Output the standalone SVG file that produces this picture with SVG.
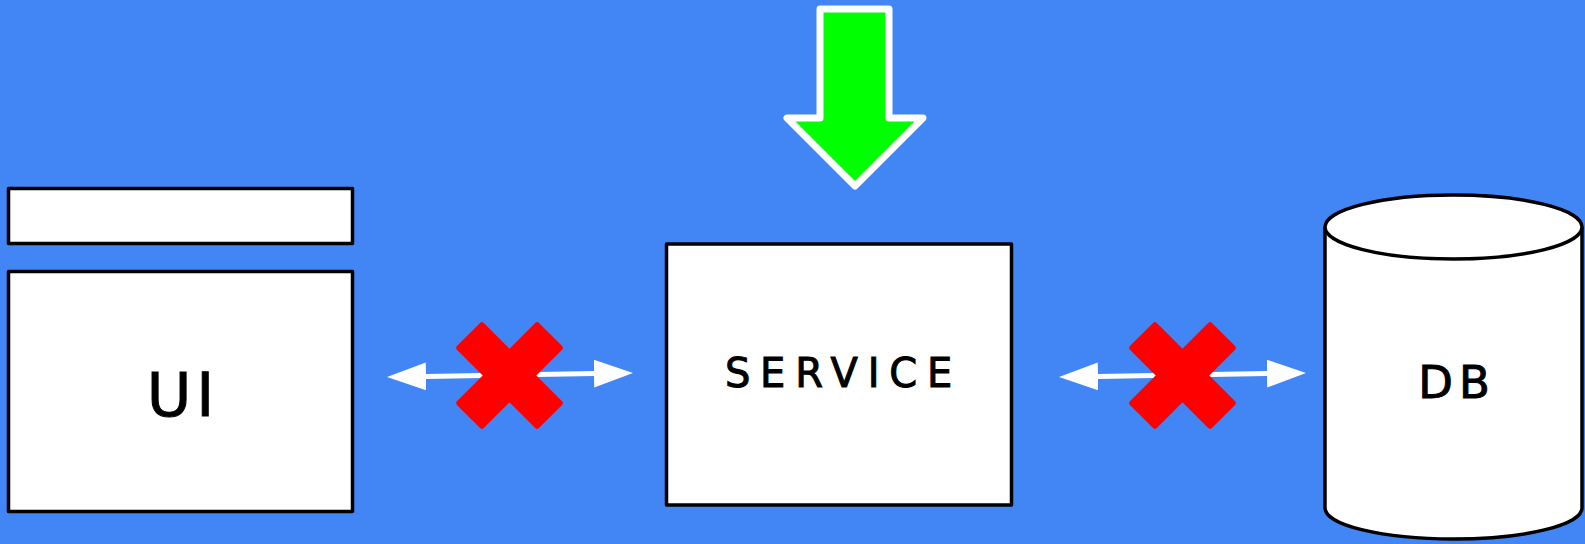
<svg xmlns="http://www.w3.org/2000/svg" width="1585" height="544" viewBox="0 0 1585 544">
<style>
.box{fill:#fff;stroke:#000;stroke-width:3.5;stroke-linejoin:round}
.lbl{font-family:"DejaVu Sans","Liberation Sans",Arial,sans-serif;fill:#000;stroke:#000;stroke-width:1;text-anchor:middle}
.conn{stroke:#fff;stroke-width:5;fill:none}
.x{fill:#f00}
</style>
<defs>
<marker id="ah" viewBox="0 0 39 28" markerWidth="39" markerHeight="28" markerUnits="userSpaceOnUse" refX="0" refY="14" orient="auto-start-reverse">
<path d="M0,0 L39,14 L0,28 Z" fill="#fff"/>
</marker>
</defs>
<rect width="1585" height="544" fill="#4285F4"/>
<g id="deploy-arrow">
<path d="M820,9 H889 V118 H923 L855,186 L787,118 H820 Z" fill="#0f0" stroke="#fff" stroke-width="7" stroke-linejoin="round"/>
</g>
<g id="ui">
<rect class="box" x="8.5" y="188.5" width="344" height="55"/>
<rect class="box" x="8.5" y="271.5" width="344" height="240"/>
<text class="lbl" x="183" y="416" font-size="61" letter-spacing="5">UI</text>
</g>
<g id="service">
<rect class="box" x="666.5" y="244" width="345" height="261"/>
<text class="lbl" x="843.5" y="387" font-size="40" letter-spacing="9.8">SERVICE</text>
</g>
<g id="db">
<path class="box" d="M1325,227 V508 A128.5,31 0 0 0 1582,508 V227"/>
<ellipse class="box" cx="1453.5" cy="227" rx="128.5" ry="32"/>
<text class="lbl" x="1457" y="398" font-size="45" letter-spacing="6">DB</text>
</g>
<g id="connectors">
<path class="conn" d="M426,376.4 L594,373.6" marker-start="url(#ah)" marker-end="url(#ah)"/>
<path class="conn" d="M1098,376.4 L1267,373.6" marker-start="url(#ah)" marker-end="url(#ah)"/>
</g>
<g id="blocked-1" class="x" transform="translate(509.5,375.5) rotate(45)">
<rect x="-58" y="-19" width="116" height="38" rx="3"/>
<rect x="-19" y="-58" width="38" height="116" rx="3"/>
</g>
<g id="blocked-2" class="x" transform="translate(1182.5,375.5) rotate(45)">
<rect x="-58" y="-19" width="116" height="38" rx="3"/>
<rect x="-19" y="-58" width="38" height="116" rx="3"/>
</g>
</svg>
